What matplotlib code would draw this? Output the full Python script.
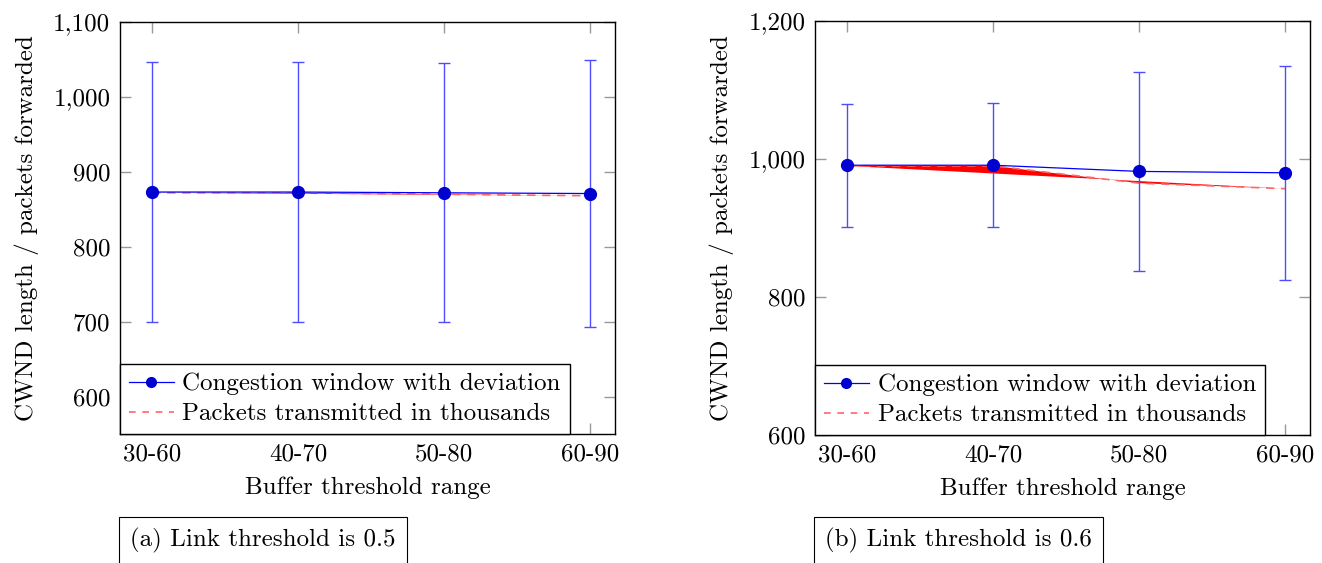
import matplotlib
matplotlib.use("Agg")
from matplotlib import pyplot as plt
from matplotlib.lines import Line2D
from matplotlib.ticker import FuncFormatter

plt.rcParams["font.family"] = ["cmr10", "DejaVu Serif"]
plt.rcParams["axes.formatter.use_mathtext"] = True
plt.rcParams["font.size"] = 18

categories = ["30-60", "40-70", "50-80", "60-90"]

# (a) link threshold 0.5
cwnd_a = [873, 873, 872, 871]
dev_a = [173, 173, 173, 178]
packets_a = [872, 872, 870, 868]

# (b) link threshold 0.6
cwnd_b = [991, 991, 982, 980]
dev_b = [89, 90, 144, 155]
packets_b = [990, 990, 965, 957]

panels = [
    ("(a) Link threshold is 0.5", cwnd_a, dev_a, packets_a, (550, 1100), [600, 700, 800, 900, 1000, 1100],
     [120 / 1322, 129 / 563, 495 / 1322, 412 / 563]),
    ("(b) Link threshold is 0.6", cwnd_b, dev_b, packets_b, (600, 1200), [600, 800, 1000, 1200],
     [815 / 1322, 128 / 563, 495 / 1322, 414 / 563]),
]

fig = plt.figure(figsize=(13.22, 5.63), dpi=100)

thousands = FuncFormatter(lambda v, pos: "{:,}".format(int(v)))

for caption, cwnd, dev, packets, ylim, yticks, rect in panels:
    ax = fig.add_axes(rect)
    x = list(range(len(categories)))

    # red series drawn as a closed path (pgfplots fill artefact) plus the dashed line
    ax.fill(x, packets, color="red", lw=0, zorder=2)
    ax.plot(x, packets, color="#ff6666", ls=(0, (5, 4)), lw=1.2, zorder=2)

    ax.errorbar(x, cwnd, yerr=dev, color="blue", ecolor="#4d4dff", elinewidth=1.0,
                capsize=4.5, capthick=1.0, lw=0.9, marker="o", ms=8.5, mfc="#0000d0",
                mec="#0000d0", zorder=3)

    ax.set_xlim(-0.22, 3.17)
    ax.set_ylim(*ylim)
    ax.set_xticks(x)
    ax.set_xticklabels(categories)
    ax.set_yticks(yticks)
    ax.yaxis.set_major_formatter(thousands)
    ax.tick_params(direction="in", length=8, width=1, color="#999999",
                   top=True, right=True, pad=7)
    for sp in ax.spines.values():
        sp.set_linewidth(1.0)

    ax.set_xlabel("Buffer threshold range", labelpad=8)
    ax.set_ylabel("CWND length / packets forwarded", labelpad=10)

    handles = [
        Line2D([], [], color="blue", lw=0.9, marker="o", ms=7, mfc="#0000d0", mec="#0000d0"),
        Line2D([], [], color="#ff6666", lw=1.2, ls=(0, (4, 4))),
    ]
    labels = ["Congestion window with deviation", "Packets transmitted in thousands"]
    leg = ax.legend(handles, labels, loc="lower left", bbox_to_anchor=(0, 0),
                    borderaxespad=0, fancybox=False, framealpha=1, edgecolor="black",
                    handlelength=1.8, handletextpad=0.35, borderpad=0.35, labelspacing=0.3)
    leg.get_frame().set_linewidth(1.0)

    fig.text(rect[0] + 10 / 1322, 1 - 528 / 563, caption, va="top", ha="left",
             bbox=dict(boxstyle="square,pad=0.45", fc="white", ec="black", lw=0.8))

fig.savefig("out.png", dpi=100)
